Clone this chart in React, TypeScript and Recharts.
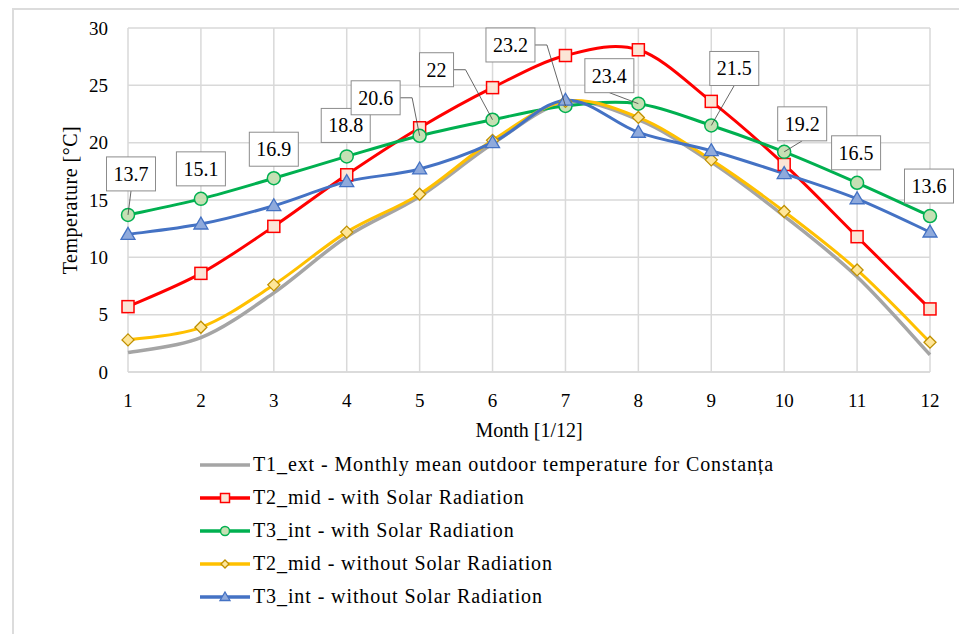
import React from "react";
import {
  LineChart,
  Line,
  XAxis,
  YAxis,
  CartesianGrid,
  LabelList,
} from "recharts";

const FONT = '"Liberation Serif", "Times New Roman", serif';

const MONTHS = [1, 2, 3, 4, 5, 6, 7, 8, 9, 10, 11, 12];
const Y_TICKS = [0, 5, 10, 15, 20, 25, 30];

// monthly temperatures, °C
const T1_EXT = [1.7, 3.0, 6.9, 11.8, 15.3, 19.9, 23.5, 22.0, 18.3, 13.6, 8.3, 1.5];
const T2_MID_SOLAR = [5.7, 8.6, 12.7, 17.2, 21.3, 24.8, 27.6, 28.1, 23.6, 18.1, 11.8, 5.5];
const T3_INT_SOLAR = [13.7, 15.1, 16.9, 18.8, 20.6, 22, 23.2, 23.4, 21.5, 19.2, 16.5, 13.6];
const T2_MID_NO_SOLAR = [2.8, 3.9, 7.6, 12.2, 15.5, 20.2, 23.6, 22.2, 18.5, 14.0, 8.9, 2.6];
const T3_INT_NO_SOLAR = [12.0, 12.9, 14.5, 16.6, 17.7, 20.0, 23.7, 20.9, 19.3, 17.3, 15.1, 12.2];

const rows = MONTHS.map((month, i) => ({
  month,
  t1: T1_EXT[i],
  t2s: T2_MID_SOLAR[i],
  t3s: T3_INT_SOLAR[i],
  t2n: T2_MID_NO_SOLAR[i],
  t3n: T3_INT_NO_SOLAR[i],
}));

// where each callout box sits relative to its point, and how the leader is drawn
const CALLOUTS: { dx: number; dy: number; leader: "none" | "bottom" | "elbow" }[] = [
  { dx: 3, dy: -41, leader: "bottom" },
  { dx: 0, dy: -30, leader: "none" },
  { dx: 0, dy: -29, leader: "none" },
  { dx: -1, dy: -31, leader: "none" },
  { dx: -44, dy: -38, leader: "elbow" },
  { dx: -56, dy: -50, leader: "elbow" },
  { dx: -55, dy: -61, leader: "elbow" },
  { dx: -29, dy: -28, leader: "bottom" },
  { dx: 23, dy: -57, leader: "bottom" },
  { dx: 18, dy: -28, leader: "bottom" },
  { dx: -1, dy: -30, leader: "none" },
  { dx: -1, dy: -30, leader: "none" },
];

// Catmull-Rom style smoothing, close to how office charts draw "smoothed lines"
function smoothCurve(context: any) {
  let pts: [number, number][] = [];
  return {
    areaStart() {},
    areaEnd() {},
    lineStart() {
      pts = [];
    },
    point(x: number, y: number) {
      pts.push([+x, +y]);
    },
    lineEnd() {
      if (!pts.length) return;
      context.moveTo(pts[0][0], pts[0][1]);
      for (let i = 0; i < pts.length - 1; i++) {
        const p0 = pts[i - 1] || pts[i];
        const p1 = pts[i];
        const p2 = pts[i + 1];
        const p3 = pts[i + 2] || p2;
        context.bezierCurveTo(
          p1[0] + (p2[0] - p0[0]) / 6,
          p1[1] + (p2[1] - p0[1]) / 6,
          p2[0] - (p3[0] - p1[0]) / 6,
          p2[1] - (p3[1] - p1[1]) / 6,
          p2[0],
          p2[1]
        );
      }
    },
  };
}

function SquareMark({ cx, cy, s = 6 }: { cx: number; cy: number; s?: number }) {
  return <rect x={cx - s} y={cy - s} width={s * 2} height={s * 2} fill="#FBE5D6" stroke="#FF0000" strokeWidth={1.5} />;
}

function CircleMark({ cx, cy, s = 6.5 }: { cx: number; cy: number; s?: number }) {
  return <circle cx={cx} cy={cy} r={s} fill="#C5E0B4" stroke="#00B050" strokeWidth={1.5} />;
}

function DiamondMark({ cx, cy, s = 6 }: { cx: number; cy: number; s?: number }) {
  const d = `M${cx},${cy - s}L${cx + s},${cy}L${cx},${cy + s}L${cx - s},${cy}Z`;
  return <path d={d} fill="#FFE699" stroke="#BF9000" strokeWidth={1.3} />;
}

function TriangleMark({ cx, cy, s = 7 }: { cx: number; cy: number; s?: number }) {
  const d = `M${cx},${cy - s}L${cx + s},${cy + s * 0.7}L${cx - s},${cy + s * 0.7}Z`;
  return <path d={d} fill="#8FAADC" stroke="#4472C4" strokeWidth={1.3} />;
}

const SERIES = [
  { key: "t1", name: "T1_ext - Monthly mean outdoor temperature for Constanța", color: "#A5A5A5", Mark: null as any, legendSize: 0 },
  { key: "t2s", name: "T2_mid - with Solar Radiation", color: "#FF0000", Mark: SquareMark, legendSize: 4.5 },
  { key: "t3s", name: "T3_int - with Solar Radiation", color: "#00B050", Mark: CircleMark, legendSize: 4.5 },
  { key: "t2n", name: "T2_mid - without Solar Radiation", color: "#FFC000", Mark: DiamondMark, legendSize: 4 },
  { key: "t3n", name: "T3_int - without Solar Radiation", color: "#4472C4", Mark: TriangleMark, legendSize: 5 },
];

function Callout(props: any) {
  const x = props.x ?? props.viewBox?.x;
  const y = props.y ?? props.viewBox?.y;
  const { value, index } = props;
  const c = CALLOUTS[index];
  if (!c || x == null || y == null) return null;
  const text = String(value);
  const textW = text.replace(".", "").length * 10 + (text.includes(".") ? 5 : 0);
  const w = textW + 14;
  const h = 34;
  const bx = x + c.dx;
  const by = y + c.dy;
  let leader = null;
  if (c.leader === "bottom") {
    leader = <line x1={bx} y1={by + h / 2} x2={x} y2={y} stroke="#404040" strokeWidth={0.8} />;
  } else if (c.leader === "elbow") {
    const ex = bx + w / 2;
    leader = (
      <polyline
        points={`${ex},${by} ${ex + 12},${by} ${x},${y}`}
        fill="none"
        stroke="#404040"
        strokeWidth={0.8}
      />
    );
  }
  return (
    <g>
      {leader}
      <rect x={bx - w / 2} y={by - h / 2} width={w} height={h} fill="#FFFFFF" stroke="#8C8C8C" strokeWidth={1} />
      <text x={bx} y={by + 7} textAnchor="middle" fontFamily={FONT} fontSize={20} fill="#000">
        {text}
      </text>
    </g>
  );
}

function LegendRow({ s }: { s: (typeof SERIES)[number] }) {
  const Mark = s.Mark;
  return (
    <div style={{ display: "flex", alignItems: "center", height: 33 }}>
      <svg width={53} height={16} style={{ flex: "none" }}>
        <line x1={0} y1={8} x2={50} y2={8} stroke={s.color} strokeWidth={3.5} />
        {Mark ? <Mark cx={25} cy={8} s={s.legendSize} /> : null}
      </svg>
      <span style={{ fontFamily: FONT, fontSize: 20, letterSpacing: 0.9, color: "#000", whiteSpace: "nowrap" }}>
        {s.name}
      </span>
    </div>
  );
}

export default function App() {
  const tickStyle = { fontFamily: FONT, fontSize: 19, fill: "#000" };
  return (
    <div style={{ margin: -8, width: 967, height: 642, position: "relative", overflow: "hidden", background: "#fff" }}>
      <div
        style={{
          position: "absolute",
          left: 12,
          top: 8,
          width: 1200,
          height: 1000,
          border: "2px solid #DCDCDC",
          boxSizing: "border-box",
        }}
      />
      <div style={{ position: "absolute", left: 0, top: 0 }}>
        <LineChart width={967} height={642} data={rows} margin={{ top: 28, right: 37, left: 0, bottom: 0 }}>
          <CartesianGrid stroke="#D9D9D9" strokeWidth={1.5} />
          <XAxis
            dataKey="month"
            type="number"
            domain={[1, 12]}
            ticks={MONTHS}
            height={270}
            tickSize={0}
            tickMargin={22}
            tickLine={false}
            axisLine={{ stroke: "#D9D9D9", strokeWidth: 1.5 }}
            tick={tickStyle}
            label={{
              value: "Month [1/12]",
              position: "insideTop",
              offset: 51,
              style: { fontFamily: FONT, fontSize: 20, fill: "#000" },
            }}
          />
          <YAxis
            domain={[0, 30]}
            ticks={Y_TICKS}
            width={128}
            tickSize={0}
            tickMargin={20}
            tickLine={false}
            axisLine={false}
            tick={tickStyle}
            label={{
              value: "Temperature [°C]",
              angle: -90,
              position: "insideLeft",
              offset: 70,
              style: { fontFamily: FONT, fontSize: 20, letterSpacing: 0.5, fill: "#000", textAnchor: "middle" },
            }}
          />
          {SERIES.map((s) => {
            const Mark = s.Mark;
            return (
              <Line
                key={s.key}
                dataKey={s.key}
                name={s.name}
                type={smoothCurve as any}
                stroke={s.color}
                strokeWidth={s.key === "t1" ? 3.5 : 3}
                isAnimationActive={false}
                activeDot={false}
                dot={
                  Mark
                    ? (p: any) => <Mark key={`${s.key}-${p.index}`} cx={p.cx} cy={p.cy} />
                    : false
                }
              >
                {s.key === "t3s" ? <LabelList dataKey="t3s" content={Callout} /> : null}
              </Line>
            );
          })}
        </LineChart>
      </div>
      <div style={{ position: "absolute", left: 200, top: 448 }}>
        {SERIES.map((s) => (
          <LegendRow key={s.key} s={s} />
        ))}
      </div>
    </div>
  );
}
